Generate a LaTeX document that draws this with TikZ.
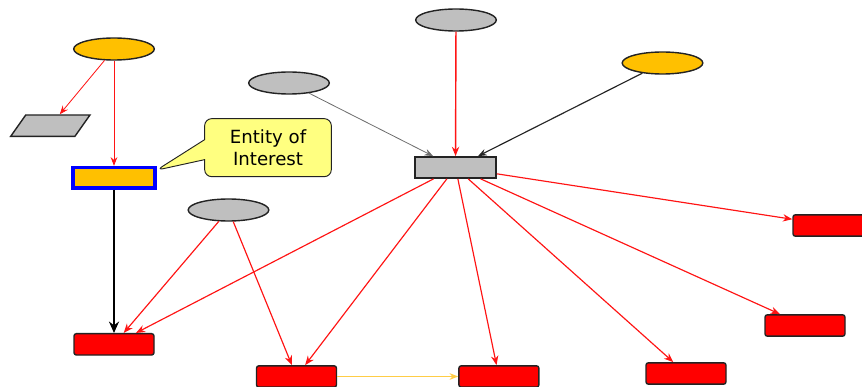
\documentclass[tikz,border=0pt]{standalone}
\usepackage{fontspec}
\setsansfont{DejaVu Sans}
\usetikzlibrary{arrows.meta, positioning, shapes.geometric, shapes.callouts}
\definecolor{ovalgold}{RGB}{255,192,0}
\definecolor{ovalgray}{RGB}{191,191,191}
\definecolor{boxred}{RGB}{255,0,0}
\definecolor{edgedark}{RGB}{35,35,35}
\definecolor{focusblue}{RGB}{0,0,255}
\definecolor{notefill}{RGB}{255,255,128}
\definecolor{linkred}{RGB}{255,20,20}
\definecolor{linkgray}{RGB}{110,110,110}
\definecolor{linkgold}{RGB}{255,205,70}

\begin{document}
\begin{tikzpicture}[
                        font=\sffamily,
                        >=Stealth,
                        oval/.style={
                                ellipse, draw=edgedark, line width=1.2pt,
                                minimum width=2.42cm, minimum height=0.66cm,
                                inner sep=0pt
                            },
                        goldoval/.style={oval, fill=ovalgold},
                        grayoval/.style={oval, fill=ovalgray},
                        target/.style={
                                rectangle, rounded corners=2pt,
                                draw=edgedark, line width=1.2pt, fill=boxred,
                                minimum width=2.40cm, minimum height=0.64cm
                            },
                        link/.style={-{Stealth[length=2.8mm,width=2.2mm]}, line width=1pt, draw=linkred},
                        thinlink/.style={-{Stealth[length=2.6mm,width=2mm]}, line width=0.7pt}
                    ]

                    \useasboundingbox (0,0) rectangle (25.86,-11.61);

                    % ===== Sources (Top) =====
                    \node[goldoval] (srcleft) at (3.42,-1.47) {};
                    \node[grayoval] (srcmid) at (8.67,-2.49) {};
                    \node[grayoval] (srctop) at (13.68,-0.60) {};
                    \node[goldoval] (srcright) at (19.875,-1.89) {};
                    \node[grayoval] (srclow) at (6.855,-6.30) {};

                    % ===== Parallelogram & Entity =====
                    \node[trapezium, trapezium left angle=73, trapezium right angle=107,
                    trapezium stretches=true, draw=edgedark, line width=1.2pt, fill=ovalgray,
                    minimum width=2.38cm, minimum height=0.64cm] (slant) at (1.51,-3.77) {};

                    \node[rectangle, draw=focusblue, line width=2.6pt, fill=ovalgold,
                    minimum width=2.46cm, minimum height=0.62cm] (entity) at (3.42,-5.33) {};

                    % ===== Hub =====
                    \node[rectangle, draw=edgedark, line width=1.2pt, fill=ovalgray,
                    minimum width=2.44cm, minimum height=0.64cm] (hub) at (13.665,-5.025) {};

                    % ===== Callout =====
                    \node[rectangle callout, rounded corners=6pt, draw=edgedark, line width=0.8pt,
                    fill=notefill, minimum width=3.80cm, minimum height=1.74cm, align=center,
                    font=\fontsize{15.5}{18.5}\selectfont\sffamily,
                    callout absolute pointer={(entity.10)}, callout pointer width=0.6cm] (note)
                    at (8.04,-4.43) {Entity of\\Interest};

                    % ===== Targets (Red) =====
                    \node[target] (tgtA) at (3.42,-10.33) {};
                    \node[target] (tgtB) at (8.895,-11.295) {};
                    \node[target, right=3.63cm of tgtB] (tgtC) {};
                    \node[target] (tgtD) at (20.58,-11.205) {};
                    \node[target] (tgtE) at (24.15,-9.765) {};
                    \node[target] (tgtF) at (24.99,-6.765) {};

                    % ===== Arrows =====
                    % Left column
                    \draw[thinlink, draw=linkred] (srcleft) -- (slant);
                    \draw[thinlink, draw=linkred] (srcleft) -- (entity);
                    \draw[-{Stealth[length=3.4mm,width=3mm]}, line width=2.2pt, draw=black] (entity) -- (tgtA);

                    % Into the hub
                    \draw[thinlink, draw=linkgray] (srcmid) -- (hub);
                    \draw[link, line width=1.2pt] (srctop) -- (hub);
                    \draw[thinlink, line width=1pt, draw=black!85] (srcright) -- (hub);

                    % Lower gray source
                    \draw[link] (srclow) -- (tgtA);
                    \draw[link] (srclow) -- (tgtB);

                    % Out of the hub
                    \foreach \t in {tgtA, tgtB, tgtC, tgtD, tgtE, tgtF}
                        \draw[link] (hub) -- (\t);

                    % Between targets
                    \draw[thinlink, line width=0.9pt, draw=linkgold] (tgtB) -- (tgtC);

                \end{tikzpicture}
\end{document}
